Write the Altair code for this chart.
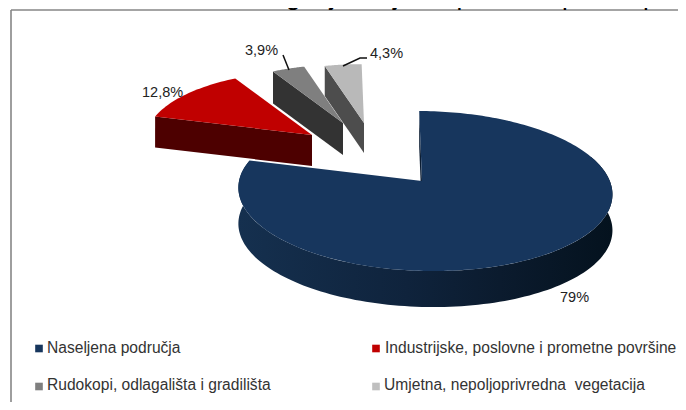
import numpy as np
import pandas as pd
import altair as alt

# ---- chart values ----
categories = ["Naseljena područja", "Industrijske, poslovne i prometne površine",
              "Rudokopi, odlagališta i gradilišta", "Umjetna, nepoljoprivredna\u00a0 vegetacija"]
shares = [79.0, 12.8, 3.9, 4.3]
share_labels = ["79%", "12,8%", "3,9%", "4,3%"]
title_text = "Slika 1.2. Struktura kategorije umjetne površine prema po"

# ---- styling and layout (page pixels) ----
W, H = 670, 394
TOP = ["#17365d", "#c00000", "#7f7f7f", "#b9b9b9"]
SIDE = ["#0c1d32", "#4d0000", "#333333", "#4d4d4d"]
APEX = [(422, 181), (312, 135), (343, 123), (364, 123)]
SCALE = [1.0, 0.91, 0.83, 0.84]
DEPTH = [36, 31, 32, 30]
A, B, KV, KX, SHEAR, TILT = 185.5, 78.75, 0.125, 0.016, 0.04, 0.01
LABEL_POS = [(560, 302), (142, 97), (245, 55), (370, 58)]
LEGEND_SQ = [(39, 348.5), (376, 348.5), (39, 386.5), (376, 386.5)]
LEGEND_TX = [(47, 353), (385, 353), (47, 390), (384, 390)]
LEADERS = [[(283, 55), (289, 70)], [(343, 66), (360, 58), (367, 58)]]

xs = alt.Scale(domain=[0, W], range=[0, W], nice=False, zero=False)
ys = alt.Scale(domain=[H, 0], range=[H, 0], nice=False, zero=False)
X = lambda f="x": alt.X(f"{f}:Q", scale=xs, axis=None)
Y = lambda f="y": alt.Y(f"{f}:Q", scale=ys, axis=None)


def project(deg, r, apex, s):
    """Perspective view of a point on the pie disc, angle clockwise from 12 o'clock."""
    t = np.radians(deg)
    u, v = r * np.sin(t), -r * np.cos(t)
    w = 1 - KV * v - KX * u
    dx, dy = s * A * u / w, s * B * v / w
    return apex[0] + dx + SHEAR * dy - 8, apex[1] + dy + TILT * dx - 8


def polygon(points, fill):
    pts = list(points) + [points[0]]
    df = pd.DataFrame({"x": [p[0] for p in pts], "y": [p[1] for p in pts], "i": range(len(pts))})
    return alt.Chart(df).mark_line(fill=fill, stroke="transparent", strokeWidth=0, interpolate="linear").encode(
        x=X(), y=Y(), order=alt.Order("i:Q"))


def down(points, d):
    return [(x, y + d) for x, y in points]


# slice angles come from the shares
ends = np.cumsum(shares) * 3.6
starts = np.concatenate([[0], ends[:-1]])

layers = []

# frame
frame = pd.DataFrame({"x": [3, 3], "y": [2, 2], "x2": [W, 3], "y2": [2, H]})
layers.append(alt.Chart(frame).mark_rule(color="#868686", strokeWidth=1.6).encode(
    x=X(), y=Y(), x2="x2:Q", y2="y2:Q"))

# exploded slices, far to near
for k in [3, 2, 1]:
    arc = [project(a, 1, APEX[k], SCALE[k]) for a in np.linspace(starts[k], ends[k], 30)]
    ap = project(0, 0, APEX[k], SCALE[k])
    layers.append(polygon([arc[0], ap] + down([ap, arc[0]], DEPTH[k]), SIDE[k]))
    layers.append(polygon(arc + [ap], TOP[k]))

# main slice: radial sliver, outer wall, top face
k = 0
ap = project(0, 0, APEX[0], 1)
edge = project(starts[0], 1, APEX[0], 1)
layers.append(polygon([edge, ap] + down([ap, edge], DEPTH[0]), SIDE[0]))
wall = [project(a, 1, APEX[0], 1) for a in np.linspace(70, ends[0], 140)]
wall_fill = alt.Gradient(gradient="linear", x1=0, x2=1, y1=0, y2=0, stops=[
    alt.GradientStop(color="#15304f", offset=0),
    alt.GradientStop(color="#0f233c", offset=0.45),
    alt.GradientStop(color="#0b1b2e", offset=0.7),
    alt.GradientStop(color="#04121e", offset=1)])
layers.append(polygon(wall + down(wall[::-1], DEPTH[0]), wall_fill))
arc = [project(a, 1, APEX[0], 1) for a in np.linspace(starts[0], ends[0], 220)]
layers.append(polygon(arc + [ap], TOP[0]))

# leader lines
for n, path in enumerate(LEADERS):
    df = pd.DataFrame({"x": [p[0] - 8 for p in path], "y": [p[1] - 8 for p in path], "i": range(len(path))})
    layers.append(alt.Chart(df).mark_line(color="#111111", strokeWidth=1.5).encode(
        x=X(), y=Y(), order=alt.Order("i:Q")))

# share labels
lab = pd.DataFrame({"t": share_labels, "x": [p[0] - 8 for p in LABEL_POS], "y": [p[1] - 8 for p in LABEL_POS]})
layers.append(alt.Chart(lab).mark_text(font="Liberation Sans", fontSize=14.5, align="left",
                                       baseline="alphabetic", color="#222222").encode(
    x=X(), y=Y(), text="t:N"))

# legend
sq = pd.DataFrame({"c": categories, "x": [p[0] - 8 for p in LEGEND_SQ], "y": [p[1] - 8 for p in LEGEND_SQ]})
layers.append(alt.Chart(sq).mark_square(size=58, opacity=1).encode(
    x=X(), y=Y(),
    color=alt.Color("c:N", scale=alt.Scale(domain=categories, range=["#17365d", "#c00000", "#7f7f7f", "#bfbfbf"]),
                    legend=None)))
lt = pd.DataFrame({"c": categories, "x": [p[0] - 8 for p in LEGEND_TX], "y": [p[1] - 8 for p in LEGEND_TX]})
layers.append(alt.Chart(lt).mark_text(font="Liberation Sans", fontSize=15.6, align="left",
                                      baseline="alphabetic", color="#333333").encode(
    x=X(), y=Y(), text="c:N"))

# title, cut by the top edge like the reference
tt = pd.DataFrame({"t": [title_text], "x": [2], "y": [5 - 8]})
layers.append(alt.Chart(tt).mark_text(font="Liberation Sans", fontSize=26, align="left",
                                      baseline="alphabetic", color="#000000").encode(
    x=X(), y=Y(), text="t:N"))

chart = alt.layer(*layers).properties(
    width=W, height=H, padding=0,
    autosize=alt.AutoSizeParams(type="none"),
    background="#ffffff",
).configure_view(stroke=None)

chart.save("out.html", embed_options={"renderer": "svg", "actions": False})
